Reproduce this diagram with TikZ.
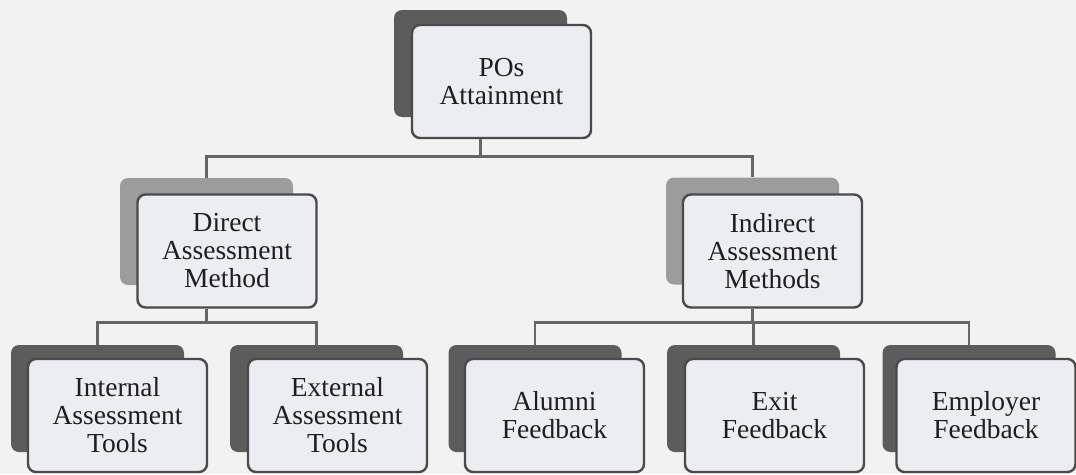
\documentclass[tikz,border=0pt]{standalone}
\usepackage{fontspec}
\setmainfont{Liberation Serif}
\definecolor{bgc}{HTML}{F2F2F2}
\definecolor{frontfill}{HTML}{ECEDF0}
\definecolor{frontline}{HTML}{4A4A4A}
\definecolor{darkback}{HTML}{5C5C5C}
\definecolor{lightback}{HTML}{9C9C9C}
\definecolor{conncol}{HTML}{666666}
\definecolor{txt}{HTML}{1E1E1E}
\tikzset{
  backbox/.style={draw=none, rounded corners=8pt, minimum width=173pt, minimum height=107pt, inner sep=0pt},
  darkbox/.style={backbox, fill=darkback},
  lightbox/.style={backbox, fill=lightback},
  frontbox/.style={draw=frontline, line width=2.4pt, fill=frontfill, rounded corners=8pt,
    minimum width=179pt, minimum height=113pt, inner sep=0pt, align=center, text=txt,
    font=\fontsize{27.5}{28}\selectfont},
  conn/.style={draw=conncol, line width=2.6pt}
}
\begin{document}
\begin{tikzpicture}[x=1pt,y=-1pt]
\fill[bgc] (0,0) rectangle (1076,474);
\useasboundingbox (0,0) rectangle (1076,474);
% top
\node[darkbox] (poB) at (480.5,63.5) {};
\node[frontbox] (poF) at (501.5,81.5) {POs\\Attainment};
% level 2
\node[lightbox] (dirB) at (206.5,231.5) {};
\node[frontbox] (dirF) at (227,251) {Direct\\Assessment\\Method};
\node[lightbox] (indB) at (752.5,231) {};
\node[frontbox] (indF) at (772.5,251) {Indirect\\Assessment\\Methods};
% level 3
\node[darkbox] (intB) at (97.5,398.5) {};
\node[frontbox] (intF) at (117.5,415.5) {Internal\\Assessment\\Tools};
\node[darkbox] (extB) at (316.5,398.5) {};
\node[frontbox] (extF) at (337.5,415.5) {External\\Assessment\\Tools};
\node[darkbox] (aluB) at (535,398.5) {};
\node[frontbox] (aluF) at (554.5,415.5) {Alumni\\Feedback};
\node[darkbox] (exiB) at (753.5,398.5) {};
\node[frontbox] (exiF) at (774.5,415.5) {Exit\\Feedback};
\node[darkbox] (empB) at (969,398.5) {};
\node[frontbox] (empF) at (986,415.5) {Employer\\Feedback};
% connectors
\draw[conn] (poB |- poF.south) -- ++(0,17) coordinate (j1);
\draw[conn] (j1) -| (dirB.north);
\draw[conn] (j1) -| (indB.north);
\draw[conn] (dirB |- dirF.south) -- ++(0,14) coordinate (j2);
\draw[conn] (j2) -| (intB.north);
\draw[conn] (j2) -| (extB.north);
\draw[conn] (indB |- indF.south) -- ++(0,14) coordinate (j3);
\draw[conn] (j3) -| (aluB.north);
\draw[conn] (j3) -| (exiB.north);
\draw[conn] (j3) -| (empB.north);
\end{tikzpicture}
\end{document}
